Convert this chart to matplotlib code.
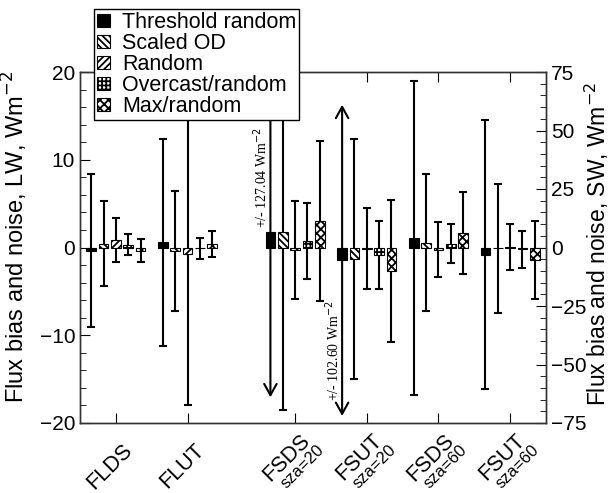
import numpy as np
import matplotlib
matplotlib.use('Agg')
import matplotlib.pyplot as plt
from matplotlib.ticker import MultipleLocator
from matplotlib.patches import Patch
from matplotlib.transforms import blended_transform_factory, offset_copy

plt.rcParams['font.family'] = ['Liberation Sans', 'DejaVu Sans']
plt.rcParams['hatch.linewidth'] = 1.3

# methods (rows) -- legend order
methods = ['Threshold random', 'Scaled OD', 'Random', 'Overcast/random', 'Max/random']

# longwave: FLDS, FLUT  (left axis)
lw_names = ['FLDS', 'FLUT']
lw_bias = [[-0.35, 0.6],
           [0.45, -0.4],
           [0.85, -0.7],
           [0.3, -0.1],
           [-0.35, 0.4]]
lw_sigma = [[8.7, 11.8],
            [4.85, 6.85],
            [2.5, 17.3],
            [1.2, 1.2],
            [1.3, 1.5]]

# shortwave: FSDS/FSUT at sza=20 and sza=60 (right axis)
sw_names = ['FSDS', 'FSUT', 'FSDS', 'FSUT']
sw_sza = ['sza=20', 'sza=20', 'sza=60', 'sza=60']
sw_bias = [[6.5, -5.3, 4.0, -3.0],
           [6.5, -5.0, 2.0, -0.4],
           [-1.0, -0.6, -0.9, 0.2],
           [2.9, -3.2, 1.7, -0.8],
           [11.3, -10.0, 6.3, -5.4]]
sw_sigma = [[127.04, 102.60, 67.0, 57.5],
            [76.0, 51.3, 29.2, 27.5],
            [21.0, 17.3, 11.6, 10.0],
            [16.2, 14.4, 8.2, 8.0],
            [34.0, 30.2, 17.6, 16.8]]
# off-scale noise drawn as arrows (threshold random, first two SW groups)
arrow_top = [62, 61]
arrow_bot = [-64, -72]

faces = ['black', 'white', 'white', 'white', 'white']
hatches = [None, '\\\\\\\\\\', '/////', '++++', 'xxxx']

fig = plt.figure(figsize=(6.1, 4.93), dpi=100)
ax = fig.add_axes([80/610, 70/493, 466/610, 351/493])
ax2 = ax.twinx()

x_lw = np.array([1.0, 2.0])
x_sw = np.array([3.5, 4.5, 5.5, 6.5])
off = 0.172
w = 0.135

for i in range(5):
    xs = x_lw + (i - 2) * off
    ax.errorbar(xs, lw_bias[i], yerr=lw_sigma[i], fmt='none', ecolor='black',
                elinewidth=1.5, capsize=3, capthick=1.5, zorder=2)
    ax.bar(xs, lw_bias[i], width=w, facecolor=faces[i], hatch=hatches[i],
           edgecolor='black', linewidth=0.8, zorder=3)

for i in range(5):
    xs = x_sw + (i - 2) * off
    b = np.array(sw_bias[i])
    s = np.array(sw_sigma[i])
    ok = s < 100
    ax2.errorbar(xs[ok], b[ok], yerr=s[ok], fmt='none', ecolor='black',
                 elinewidth=1.5, capsize=3, capthick=1.5, zorder=2)
    ax2.bar(xs, b, width=w, facecolor=faces[i], hatch=hatches[i],
            edgecolor='black', linewidth=0.8, zorder=3)

xs0 = x_sw - 2 * off
for j in range(len(arrow_top)):
    ax2.annotate('', xy=(xs0[j], arrow_bot[j]), xytext=(xs0[j], arrow_top[j]),
                 arrowprops=dict(arrowstyle='<->,head_length=0.45,head_width=0.25',
                                 lw=1.5, color='black', mutation_scale=18,
                                 shrinkA=0, shrinkB=0), zorder=2)
    txt_tr = offset_copy(ax2.transData, fig=fig, x=-7, y=0, units='points')
    ymid = 30 if j == 0 else -44
    ax2.text(xs0[j], ymid, '+/- %.2f Wm$^{-2}$' % sw_sigma[0][j], transform=txt_tr,
             rotation=90, ha='center', va='center', fontsize=10,
             family='Liberation Serif')

ax.set_xlim(0.5, 7.0)
ax.set_ylim(-20, 20)
ax2.set_ylim(-75, 75)

ax.yaxis.set_major_locator(MultipleLocator(10))
ax.yaxis.set_minor_locator(MultipleLocator(2))
ax2.yaxis.set_major_locator(MultipleLocator(25))
ax2.yaxis.set_minor_locator(MultipleLocator(5))

xt = np.concatenate([x_lw, x_sw])
ax.set_xticks(xt)
ax.set_xticklabels([])
ax.tick_params(axis='x', direction='in', length=7, top=True, bottom=True)
ax.tick_params(axis='y', which='major', direction='in', length=7, labelsize=15)
ax.tick_params(axis='y', which='minor', direction='in', length=4)
ax2.tick_params(axis='y', which='major', direction='in', length=7, labelsize=15)
ax2.tick_params(axis='y', which='minor', direction='in', length=4)

for a in (ax, ax2):
    for sp in a.spines.values():
        sp.set_color('#333333')
        sp.set_linewidth(1.0)

# category labels under the axis, rotated
base = blended_transform_factory(ax.transData, ax.transAxes)
names = lw_names + sw_names
subs = ['', ''] + sw_sza
for xv, nm, sb in zip(xt, names, subs):
    if sb:
        ax.text(xv, 0, nm, transform=offset_copy(base, fig=fig, x=14, y=-5, units='points'),
                rotation=45, ha='right', va='top', fontsize=15.5)
        ax.text(xv, 0, sb, transform=offset_copy(base, fig=fig, x=23, y=-14, units='points'),
                rotation=45, ha='right', va='top', fontsize=12)
    else:
        ax.text(xv, 0, nm, transform=offset_copy(base, fig=fig, x=15, y=-12, units='points'),
                rotation=45, ha='right', va='top', fontsize=15.5)

ax.set_ylabel('Flux bias and noise, LW, Wm$^{-2}$', fontsize=17)
ax.yaxis.set_label_coords(-0.107, 0.53)
ax2.set_ylabel('Flux bias and noise, SW, Wm$^{-2}$', fontsize=16.5)
ax2.yaxis.set_label_coords(1.08, 0.51)

handles = [Patch(facecolor=faces[i], hatch=hatches[i], edgecolor='black', linewidth=0.8)
           for i in range(5)]
leg = fig.legend(handles, methods, loc='upper left', bbox_to_anchor=(94/610, 1 - 9/493),
                 fontsize=15.5, frameon=True, fancybox=False, framealpha=1,
                 edgecolor='black', labelspacing=0.0, borderpad=0.15,
                 handlelength=0.6, handleheight=0.6, handletextpad=0.55,
                 borderaxespad=0)
leg.get_frame().set_linewidth(1.0)

plt.savefig('out.png', dpi=100)
